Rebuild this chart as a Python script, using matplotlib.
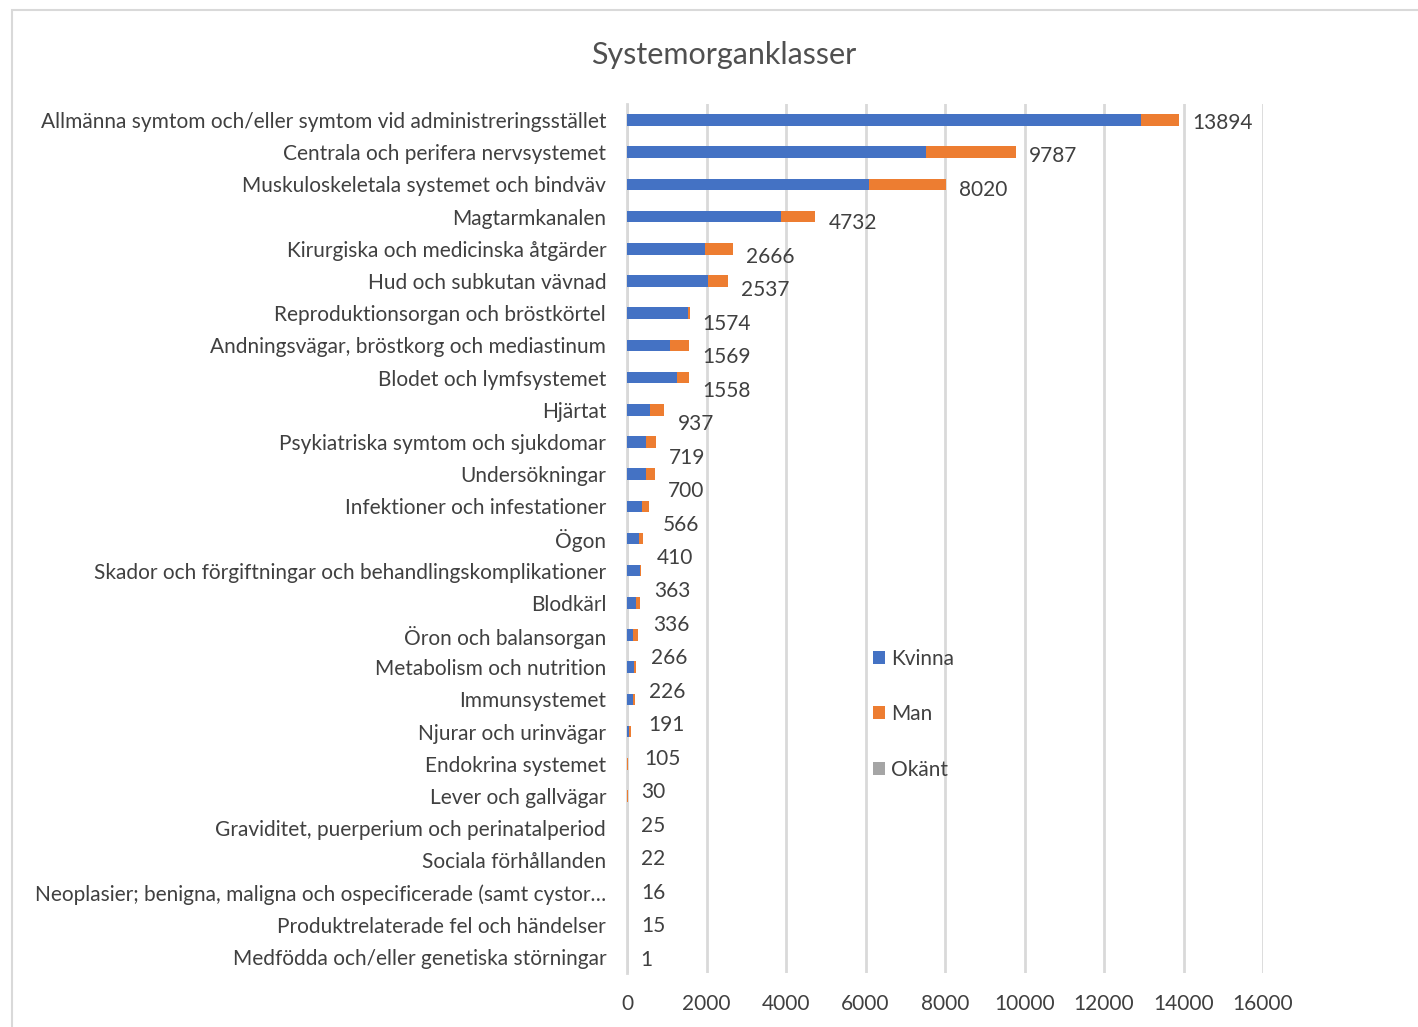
import matplotlib
matplotlib.use("Agg")
import matplotlib.pyplot as plt
from matplotlib.patches import Rectangle
import numpy as np

categories = [
    "Allmänna symtom och/eller symtom vid administreringsstället",
    "Centrala och perifera nervsystemet",
    "Muskuloskeletala systemet och bindväv",
    "Magtarmkanalen",
    "Kirurgiska och medicinska åtgärder",
    "Hud och subkutan vävnad",
    "Reproduktionsorgan och bröstkörtel",
    "Andningsvägar, bröstkorg och mediastinum",
    "Blodet och lymfsystemet",
    "Hjärtat",
    "Psykiatriska symtom och sjukdomar",
    "Undersökningar",
    "Infektioner och infestationer",
    "Ögon",
    "Skador och förgiftningar och behandlingskomplikationer",
    "Blodkärl",
    "Öron och balansorgan",
    "Metabolism och nutrition",
    "Immunsystemet",
    "Njurar och urinvägar",
    "Endokrina systemet",
    "Lever och gallvägar",
    "Graviditet, puerperium och perinatalperiod",
    "Sociala förhållanden",
    "Neoplasier; benigna, maligna och ospecificerade (samt cystor\u2026",
    "Produktrelaterade fel och händelser",
    "Medfödda och/eller genetiska störningar",
]
kvinna = [12930, 7520, 6090, 3875, 1960, 2040, 1540, 1090, 1270, 575, 475, 475,
          385, 300, 325, 230, 160, 180, 160, 40, 0, 0, 0, 0, 0, 0, 0]
man = [964, 2267, 1930, 857, 706, 497, 34, 479, 288, 362, 244, 225,
       181, 110, 38, 106, 106, 46, 31, 65, 30, 25, 0, 0, 0, 0, 0]
okant = [0] * 27
totals = [13894, 9787, 8020, 4732, 2666, 2537, 1574, 1569, 1558, 937, 719, 700,
          566, 410, 363, 336, 266, 226, 191, 105, 30, 25, 22, 16, 15, 1]
xticks = [0, 2000, 4000, 6000, 8000, 10000, 12000, 14000, 16000]

plt.rcParams['font.family'] = ['Lato', 'DejaVu Sans']
W, H = 1418, 1027
fig = plt.figure(figsize=(W / 100, H / 100), dpi=100)
fig.patch.set_facecolor('white')

# chart frame
fig.add_artist(Rectangle((12 / W, -0.01), 1.2, 1 - 10 / H + 0.01, transform=fig.transFigure,
                         fill=False, edgecolor='#d9d9d9', linewidth=1.5))

x0, x1 = 627, 1263
y_top, y_bot = 104, 973
ax = fig.add_axes([x0 / W, 1 - y_bot / H, (x1 - x0) / W, (y_bot - y_top) / H])

n = len(categories)
pos = np.arange(n)
k = np.array(kvinna, float)
m = np.array(man, float)
o = np.array(okant, float)
bh = 0.36
ax.barh(pos, k, height=bh, color='#4472C4', label='Kvinna', zorder=3)
ax.barh(pos, m, left=k, height=bh, color='#ED7D31', label='Man', zorder=3)
ax.barh(pos, o, left=k + m, height=bh, color='#A5A5A5', label='Okänt', zorder=3)

FS = 15
TXT = '#404040'
lab_pos = np.arange(len(totals)) * (n - 1) / (len(totals) - 1)
for yv, t in zip(lab_pos, totals):
    ax.annotate(str(t), (t, yv), xytext=(9.5, -2), textcoords='offset points',
                ha='left', va='center', fontsize=FS, color=TXT, zorder=4)

ax.set_ylim(n - 0.5, -0.5)
ax.set_xlim(0, 16000)
ax.set_xticks(xticks)
ax.set_xticklabels([str(v) for v in xticks])
ax.set_yticks(pos)
ax.set_yticklabels(categories)
ax.tick_params(axis='both', length=0, labelsize=FS, labelcolor=TXT)
ax.tick_params(axis='y', pad=15)
ax.tick_params(axis='x', pad=15)
ax.grid(axis='x', color='#d9d9d9', linewidth=2, zorder=0)
for s in ['top', 'right', 'bottom']:
    ax.spines[s].set_visible(False)
ax.spines['left'].set_color('#d9d9d9')
ax.spines['left'].set_linewidth(2)

fig.text(724 / W, 1 - 55 / H, "Systemorganklasser", ha='center', va='center',
         fontsize=22, color='#505050')

leg = ax.legend(loc='upper left', bbox_to_anchor=(856 / W, 1 - 632 / H),
                bbox_transform=fig.transFigure, frameon=False, fontsize=FS,
                labelspacing=1.7, handlelength=0.6, handleheight=0.6, handletextpad=0.3,
                labelcolor=TXT, borderpad=0.3)

fig.savefig("out.png", dpi=100)
